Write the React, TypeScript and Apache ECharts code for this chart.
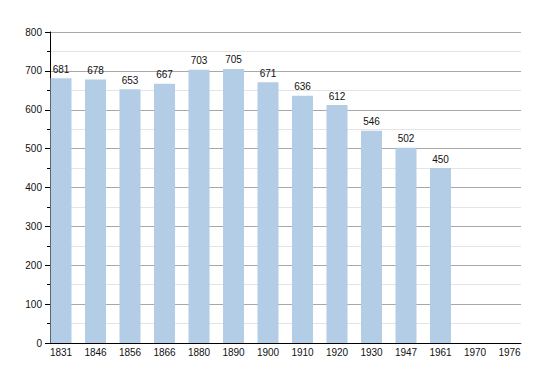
import React, { useEffect, useRef } from "react";
import * as echarts from "echarts";

const years = ["1831", "1846", "1856", "1866", "1880", "1890", "1900", "1910", "1920", "1930", "1947", "1961", "1970", "1976"];
const population: (number | null)[] = [681, 678, 653, 667, 703, 705, 671, 636, 612, 546, 502, 450, null, null];
const yMin = 0;
const yMax = 800;
const yStep = 100;

export default function App() {
  const ref = useRef<HTMLDivElement>(null);
  useEffect(() => {
    if (!ref.current) return;
    const chart = echarts.init(ref.current, null, { renderer: "svg" });
    const font = "Liberation Sans, Arial, sans-serif";
    chart.setOption({
      animation: false,
      grid: [
        { left: 50, right: 29, top: 32, bottom: 30 },
        { left: 61, right: 40.5, top: 32, bottom: 30 },
      ],
      xAxis: [
        {
          gridIndex: 0,
          type: "value",
          min: 0,
          max: 1,
          axisLine: { show: true, onZero: false, lineStyle: { color: "#000", width: 1 } },
          axisTick: { show: false },
          axisLabel: { show: false },
          splitLine: { show: false },
        },
        {
          gridIndex: 1,
          type: "category",
          data: years,
          boundaryGap: false,
          axisLine: { show: false },
          axisTick: { show: false },
          axisLabel: { color: "#111", fontSize: 10, fontFamily: font, margin: 4, interval: 0 },
          splitLine: { show: false },
        },
      ],
      yAxis: [
        {
          gridIndex: 0,
          type: "value",
          min: yMin,
          max: yMax,
          interval: yStep,
          axisLine: { show: true, lineStyle: { color: "#000", width: 1 } },
          axisTick: { show: true, length: 5, lineStyle: { color: "#000" } },
          minorTick: { show: true, splitNumber: 2, length: 3, lineStyle: { color: "#000" } },
          axisLabel: { color: "#111", fontSize: 10, fontFamily: font, margin: 8 },
          splitLine: { show: true, lineStyle: { color: "#a8a8a8", width: 1 } },
          minorSplitLine: { show: true, lineStyle: { color: "#e4e4e4", width: 1 } },
        },
        {
          gridIndex: 1,
          type: "value",
          min: yMin,
          max: yMax,
          interval: yStep,
          show: false,
          splitLine: { show: false },
        },
      ],
      series: [
        {
          type: "bar",
          xAxisIndex: 1,
          yAxisIndex: 1,
          data: population,
          barWidth: 21,
          itemStyle: { color: "#b3cde6" },
          label: {
            show: true,
            position: "top",
            distance: 4,
            color: "#111",
            fontSize: 10,
            fontFamily: font,
          },
        },
      ],
    });
    return () => chart.dispose();
  }, []);
  return (
    <div
      ref={ref}
      style={{ position: "fixed", left: 0, top: 0, width: 550, height: 373, background: "#fff" }}
    />
  );
}
